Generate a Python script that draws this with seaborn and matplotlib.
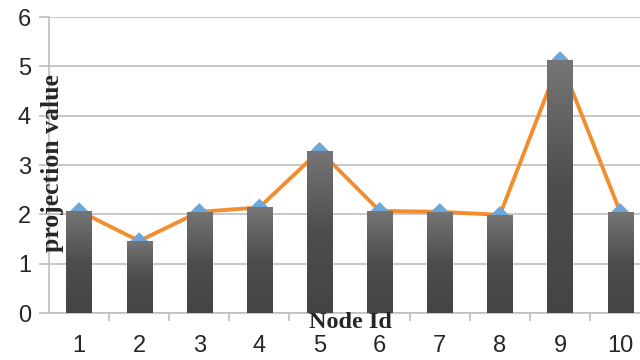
import numpy as np
import pandas as pd
import matplotlib
matplotlib.use("Agg")
import matplotlib.pyplot as plt
import seaborn as sns
from matplotlib.colors import LinearSegmentedColormap

# ---- data ----
node_ids = ["1", "2", "3", "4", "5", "6", "7", "8", "9", "10"]
bar_values = [2.07, 1.46, 2.05, 2.14, 3.29, 2.07, 2.05, 1.99, 5.13, 2.05]
line_values = [2.07, 1.46, 2.05, 2.14, 3.29, 2.07, 2.05, 1.99, 5.13, 2.05]
y_ticks = [0, 1, 2, 3, 4, 5, 6]

df = pd.DataFrame({"node": node_ids, "bar": bar_values, "line": line_values,
                   "pos": np.arange(len(node_ids))})

sns.set_style("white")
plt.rcParams["font.family"] = ["Liberation Sans", "DejaVu Sans"]

fig = plt.figure(figsize=(6.4, 3.6), dpi=100)
ax = fig.add_axes([49 / 640, 1 - 313 / 360, 1 - 49 / 640, (313 - 17) / 360])

grid_c = "#BFBFBF"

# bars
sns.barplot(data=df, x="node", y="bar", ax=ax, width=0.42, color="#5a5a5a",
            saturation=1, zorder=3)
# line and markers (behind bars)
sns.lineplot(data=df, x="pos", y="line", ax=ax, color="#F28E2F", linewidth=2.8,
             zorder=2)
sns.scatterplot(data=df, x="pos", y="line", ax=ax, marker="D", s=80,
                color="#6CA6DA", edgecolor="none", zorder=2.5)

# gradient fill for bars
cmap = LinearSegmentedColormap.from_list("g", ["#444444", "#4d4d4d", "#767676"])
grad = np.linspace(0, 1, 256).reshape(-1, 1)
for p in ax.patches:
    x0, y0 = p.get_x(), p.get_y()
    w, h = p.get_width(), p.get_height()
    im = ax.imshow(grad, cmap=cmap, origin="lower", aspect="auto",
                   extent=[x0, x0 + w, y0, y0 + h], zorder=3.1)
    im.set_clip_path(p)
    p.set_edgecolor("none")

ax.set_xlim(-0.5, 9.33)
ax.set_ylim(0, 6)
ax.set_yticks(y_ticks)
ax.set_xticks(range(len(node_ids)))
ax.set_xticklabels(node_ids)

ax.yaxis.grid(True, color=grid_c, linewidth=1.2, zorder=0)
ax.set_axisbelow(True)
for s in ["top", "right"]:
    ax.spines[s].set_visible(False)
for s in ["left", "bottom"]:
    ax.spines[s].set_color(grid_c)
    ax.spines[s].set_linewidth(1.2)

ax.tick_params(axis="y", which="major", length=7, color=grid_c, width=1.2,
               labelsize=17, pad=6, left=True)
ax.tick_params(axis="x", which="major", length=0, labelsize=17, pad=16)
ax.set_xticks(np.arange(0.5, 9.0, 1.0), minor=True)
ax.tick_params(axis="x", which="minor", length=6, color=grid_c, width=1.2,
               bottom=True)

ax.set_xlabel("")
ax.set_ylabel("")
fig.text(350 / 640, 1 - 323 / 360, "Node Id", ha="center", va="center",
         fontsize=17.5, fontweight="bold", family=["Liberation Serif"])
fig.text(53 / 640, 1 - 163 / 360, "projection value", ha="center", va="center",
         rotation=90, fontsize=18.5, fontweight="bold",
         family=["Liberation Serif"])

fig.savefig("out.png", dpi=100)
